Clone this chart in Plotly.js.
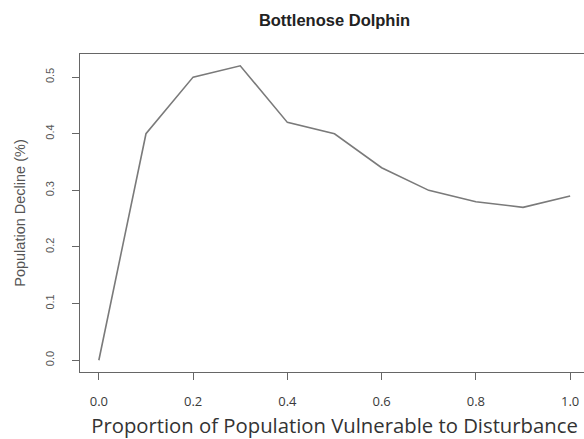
<!DOCTYPE html>
<html>
<head>
<meta charset="utf-8">
<script src="https://cdn.plot.ly/plotly-3.0.1.min.js"></script>
<style>
html,body{margin:0;padding:0;overflow:hidden;background:#fff;width:584px;height:439px;}
#chart{width:594px;height:439px;}
</style>
</head>
<body>
<div id="chart"></div>
<script>
const proportion = [0.0, 0.1, 0.2, 0.3, 0.4, 0.5, 0.6, 0.7, 0.8, 0.9, 1.0];
const decline = [0.0, 0.40, 0.50, 0.52, 0.42, 0.40, 0.34, 0.30, 0.28, 0.27, 0.29];
const xTicks = [0.0, 0.2, 0.4, 0.6, 0.8, 1.0];
const xTickLabels = ["0.0", "0.2", "0.4", "0.6", "0.8", "1.0"];
const yTicks = [0.0, 0.1, 0.2, 0.3, 0.4, 0.5];
const yTickLabels = ["0.0", "0.1", "0.2", "0.3", "0.4", "0.5"];

const trace = {
  x: proportion,
  y: decline,
  type: 'scatter',
  mode: 'lines',
  line: {color: '#7a7a7a', width: 1.6},
  hoverinfo: 'skip'
};

const layout = {
  width: 594,
  height: 439,
  margin: {l: 80, r: 5, t: 54, b: 67},
  paper_bgcolor: '#fff',
  plot_bgcolor: '#fff',
  showlegend: false,
  title: {
    text: '<b>Bottlenose Dolphin</b>',
    font: {family: 'Liberation Sans, Arial, sans-serif', size: 16.5, color: '#222'},
    x: 0.5,
    xref: 'paper',
    xanchor: 'center',
    y: 1 - 20 / 439,
    yref: 'container',
    yanchor: 'middle'
  },
  xaxis: {
    range: [-0.04, 1.04],
    tickvals: xTicks,
    ticktext: xTickLabels,
    ticks: 'outside',
    ticklen: 7,
    tickwidth: 1,
    tickcolor: '#666',
    tickfont: {family: 'Open Sans, sans-serif', size: 13, color: '#3a3a3a'},
    ticklabelstandoff: 10,
    showgrid: false,
    zeroline: false,
    showline: true,
    linecolor: '#666',
    linewidth: 1,
    mirror: true,
    title: {
      text: 'Proportion of Population Vulnerable to Disturbance',
      font: {family: 'Open Sans, sans-serif', size: 20.3, color: '#333'},
      standoff: 11
    }
  },
  yaxis: {
    range: [-0.0208, 0.5408],
    tickvals: yTicks,
    ticktext: yTickLabels,
    tickangle: -90,
    ticks: 'outside',
    ticklen: 7,
    tickwidth: 1,
    tickcolor: '#666',
    tickfont: {family: 'Liberation Sans, Arial, sans-serif', size: 11, color: '#555'},
    ticklabelstandoff: 14,
    showgrid: false,
    zeroline: false,
    showline: true,
    linecolor: '#666',
    linewidth: 1,
    mirror: true,
    title: {
      text: 'Population Decline (%)',
      font: {family: 'Liberation Sans, Arial, sans-serif', size: 14.5, color: '#555'},
      standoff: 14
    }
  }
};

Plotly.newPlot('chart', [trace], layout, {displayModeBar: false, staticPlot: true});
</script>
</body>
</html>
